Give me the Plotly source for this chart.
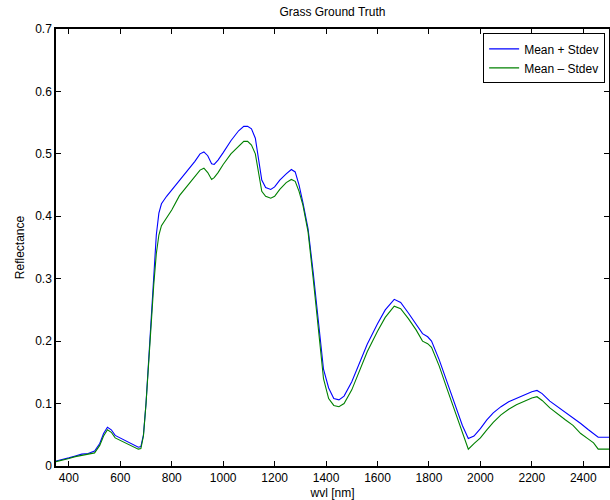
import plotly.graph_objects as go

wavelength = [350, 375, 400, 425, 450, 475, 500, 520, 535, 550, 565, 580, 600, 625, 650, 670, 680, 690, 700, 710,
              720, 730, 740, 750, 760, 780, 800, 830, 860, 890, 910, 925, 940, 955, 965, 980, 1000, 1030, 1060,
              1080, 1095, 1110, 1125, 1135, 1150, 1165, 1185, 1200, 1220, 1245, 1265, 1280, 1295, 1310, 1330,
              1350, 1370, 1390, 1410, 1430, 1450, 1470, 1500, 1530, 1560, 1600, 1630, 1665, 1690, 1720, 1750,
              1775, 1795, 1810, 1840, 1870, 1900, 1930, 1953, 1975, 2000, 2025, 2050, 2080, 2110, 2140, 2170,
              2200, 2220, 2240, 2270, 2300, 2330, 2360, 2390, 2420, 2440, 2458, 2480, 2500]

mean_plus = [0.008, 0.010, 0.013, 0.016, 0.019, 0.020, 0.024, 0.036, 0.052, 0.062, 0.058, 0.049, 0.045, 0.040,
             0.035, 0.030, 0.031, 0.050, 0.100, 0.170, 0.230, 0.290, 0.370, 0.405, 0.420, 0.432, 0.442, 0.458,
             0.472, 0.488, 0.500, 0.503, 0.497, 0.484, 0.483, 0.490, 0.502, 0.521, 0.537, 0.544, 0.544, 0.540,
             0.525, 0.500, 0.458, 0.446, 0.443, 0.447, 0.458, 0.468, 0.475, 0.471, 0.450, 0.422, 0.380, 0.310,
             0.230, 0.155, 0.125, 0.108, 0.106, 0.112, 0.135, 0.165, 0.195, 0.228, 0.250, 0.267, 0.262, 0.245,
             0.228, 0.212, 0.207, 0.200, 0.170, 0.135, 0.100, 0.065, 0.044, 0.048, 0.060, 0.074, 0.085, 0.095,
             0.103, 0.108, 0.113, 0.119, 0.121, 0.116, 0.104, 0.095, 0.086, 0.078, 0.068, 0.058, 0.052, 0.046,
             0.046, 0.046]

mean_minus = [0.007, 0.009, 0.012, 0.015, 0.017, 0.018, 0.021, 0.033, 0.048, 0.058, 0.054, 0.045, 0.041, 0.036,
              0.032, 0.027, 0.028, 0.048, 0.100, 0.170, 0.230, 0.290, 0.340, 0.370, 0.385, 0.398, 0.410, 0.433,
              0.448, 0.463, 0.474, 0.477, 0.470, 0.459, 0.462, 0.470, 0.483, 0.500, 0.513, 0.520, 0.520, 0.514,
              0.500, 0.475, 0.440, 0.432, 0.429, 0.432, 0.443, 0.454, 0.459, 0.456, 0.440, 0.418, 0.375, 0.300,
              0.220, 0.140, 0.108, 0.097, 0.095, 0.100, 0.122, 0.152, 0.183, 0.216, 0.238, 0.256, 0.252, 0.236,
              0.218, 0.200, 0.196, 0.190, 0.160, 0.124, 0.088, 0.053, 0.027, 0.036, 0.045, 0.058, 0.070, 0.082,
              0.091, 0.098, 0.104, 0.109, 0.111, 0.105, 0.093, 0.083, 0.074, 0.065, 0.052, 0.043, 0.037, 0.027,
              0.027, 0.027]

x_ticks = [400, 600, 800, 1000, 1200, 1400, 1600, 1800, 2000, 2200, 2400]
y_ticks = [0, 0.1, 0.2, 0.3, 0.4, 0.5, 0.6, 0.7]
y_tick_labels = ["0", "0.1", "0.2", "0.3", "0.4", "0.5", "0.6", "0.7"]

FONT = "Liberation Sans, Arial, Helvetica, sans-serif"

fig = go.Figure()
fig.add_trace(go.Scatter(x=wavelength, y=mean_plus, mode="lines", name="Mean + Stdev",
                         line=dict(color="#0000FF", width=1.1)))
fig.add_trace(go.Scatter(x=wavelength, y=mean_minus, mode="lines", name="Mean \u2013 Stdev",
                         line=dict(color="#008000", width=1.1)))

axis_common = dict(showgrid=False, zeroline=False, showline=True, linecolor="black", linewidth=1.5,
                   mirror="ticks", ticks="inside", ticklen=5, tickcolor="black", tickwidth=1,
                   tickfont=dict(family=FONT, size=12, color="black"))

fig.update_layout(
    width=610, height=500,
    margin=dict(l=56, r=1, t=29, b=34, autoexpand=False),
    paper_bgcolor="white", plot_bgcolor="white",
    font=dict(family=FONT, size=12, color="black"),
    title=dict(text="Grass Ground Truth", x=0.545, xanchor="center", y=0.976, yanchor="middle",
               font=dict(family=FONT, size=12, color="black")),
    xaxis=dict(range=[350, 2500], tickvals=x_ticks, automargin=False,
               title=dict(text="wvl [nm]", standoff=4, font=dict(family=FONT, size=12)), **axis_common),
    yaxis=dict(range=[0, 0.7], tickvals=y_ticks, ticktext=y_tick_labels, automargin=False,
               title=dict(text="Reflectance", standoff=8, font=dict(family=FONT, size=12)), **axis_common),
    legend=dict(x=0.993, xanchor="right", y=0.99, yanchor="top", bgcolor="white",
                bordercolor="black", borderwidth=1, font=dict(family=FONT, size=12),
                tracegroupgap=0, itemwidth=30),
    showlegend=True,
)

fig.write_html("out.html", config={"displayModeBar": False},
               post_script="document.body.style.margin='0px';")
